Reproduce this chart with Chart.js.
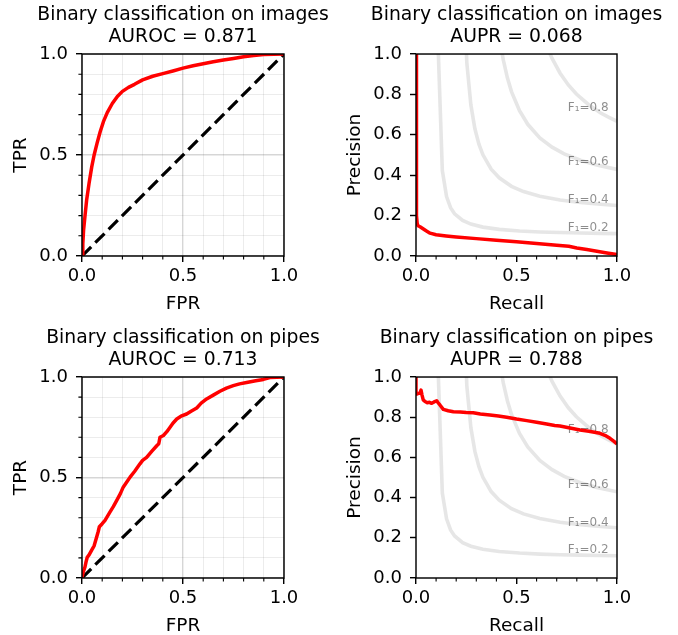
<!DOCTYPE html>
<html>
<head>
<meta charset="utf-8">
<script src="https://cdn.jsdelivr.net/npm/chart.js@4.4.1/dist/chart.umd.min.js"></script>
<style>
  html, body { margin: 0; padding: 0; background: #fff; overflow: hidden; width: 678px; height: 635px; }
  canvas { position: absolute; }
</style>
</head>
<body>
<canvas id="rocImages" width="366" height="317" style="left:0;top:0"></canvas>
<canvas id="prImages" width="355" height="317" style="left:339px;top:0"></canvas>
<canvas id="rocPipes" width="366" height="312" style="left:0;top:323px"></canvas>
<canvas id="prPipes" width="355" height="312" style="left:339px;top:323px"></canvas>
<script>
// ---- data ----
const aurocImages = '0.871';
const auprImages = '0.068';
const aurocPipes = '0.713';
const auprPipes = '0.788';

const rocImagesFpr = [0, 0.004, 0.008, 0.015, 0.023, 0.035, 0.048, 0.06, 0.075, 0.09,
  0.106, 0.125, 0.15, 0.175, 0.2, 0.23, 0.26, 0.3, 0.35, 0.4,
  0.45, 0.5, 0.55, 0.6, 0.65, 0.7, 0.75, 0.8, 0.85, 0.9, 0.95, 1.0];
const rocImagesTpr = [0, 0.06, 0.13, 0.2, 0.277, 0.36, 0.44, 0.5, 0.56, 0.615,
  0.665, 0.71, 0.755, 0.79, 0.815, 0.835, 0.85, 0.872, 0.89, 0.903,
  0.916, 0.93, 0.942, 0.952, 0.962, 0.97, 0.978, 0.986, 0.992, 0.997, 0.999, 1.0];

const rocPipesFpr = [0, 0.005, 0.015, 0.02, 0.026, 0.035, 0.048, 0.06, 0.073, 0.08,
  0.086, 0.1, 0.114, 0.125, 0.139, 0.155, 0.172, 0.19, 0.204, 0.22,
  0.238, 0.26, 0.287, 0.3, 0.32, 0.345, 0.37, 0.38, 0.386, 0.403,
  0.42, 0.436, 0.45, 0.469, 0.49, 0.518, 0.54, 0.568, 0.59, 0.617,
  0.65, 0.683, 0.715, 0.749, 0.78, 0.815, 0.86, 0.898, 0.93, 1.0];
const rocPipesTpr = [0, 0.025, 0.056, 0.08, 0.103, 0.115, 0.139, 0.16, 0.205, 0.23,
  0.255, 0.27, 0.287, 0.305, 0.329, 0.355, 0.386, 0.42, 0.452, 0.475,
  0.502, 0.53, 0.568, 0.585, 0.6, 0.63, 0.658, 0.668, 0.7, 0.709,
  0.728, 0.75, 0.77, 0.791, 0.805, 0.816, 0.83, 0.846, 0.87, 0.891,
  0.91, 0.929, 0.945, 0.957, 0.966, 0.973, 0.981, 0.988, 0.997, 1.0];

const prImagesRecall = [0, 0.001, 0.002, 0.004, 0.006, 0.01, 0.02, 0.035, 0.05, 0.07,
  0.1, 0.15, 0.2, 0.3, 0.4, 0.5, 0.6, 0.7, 0.76, 0.8, 0.85, 0.9, 0.95, 1.0];
const prImagesPrecision = [1.0, 0.6, 0.3, 0.2, 0.16, 0.15, 0.145, 0.135, 0.125, 0.113,
  0.105, 0.099, 0.094, 0.086, 0.078, 0.07, 0.062, 0.053, 0.048, 0.04, 0.032, 0.024, 0.015, 0.007];

const prPipesRecall = [0, 0.0, 0.005, 0.01, 0.02, 0.025, 0.03, 0.036, 0.045, 0.056,
  0.067, 0.078, 0.09, 0.103, 0.11, 0.119, 0.136, 0.16, 0.186, 0.22,
  0.25, 0.285, 0.32, 0.368, 0.41, 0.451, 0.5, 0.551, 0.6, 0.65,
  0.69, 0.716, 0.76, 0.816, 0.86, 0.915, 0.94, 0.965, 0.985, 1.0];
const prPipesPrecision = [1.0, 0.915, 0.915, 0.918, 0.92, 0.935, 0.91, 0.886, 0.878, 0.872,
  0.874, 0.869, 0.876, 0.882, 0.872, 0.861, 0.839, 0.832, 0.827, 0.826,
  0.823, 0.822, 0.816, 0.811, 0.806, 0.8, 0.791, 0.783, 0.775, 0.766,
  0.759, 0.756, 0.748, 0.736, 0.73, 0.72, 0.71, 0.695, 0.68, 0.667];

const chanceX = [0, 1];
const chanceY = [0, 1];

// iso-F1 curves
const isoScores = ['0.2', '0.4', '0.6', '0.8'];
const iso02Recall = [0.111, 0.131, 0.152, 0.172, 0.192, 0.232, 0.273, 0.333, 0.414, 0.515, 0.616, 0.717, 0.818, 0.919, 1.0];
const iso02Precision = [1.009, 0.423, 0.294, 0.239, 0.209, 0.176, 0.158, 0.143, 0.132, 0.124, 0.119, 0.116, 0.114, 0.112, 0.111];
const iso04Recall = [0.232, 0.253, 0.273, 0.293, 0.313, 0.333, 0.374, 0.414, 0.475, 0.535, 0.616, 0.717, 0.818, 0.919, 1.0];
const iso04Precision = [1.45, 0.955, 0.748, 0.63, 0.554, 0.501, 0.43, 0.387, 0.345, 0.319, 0.296, 0.277, 0.265, 0.256, 0.25];
const iso06Recall = [0.414, 0.434, 0.455, 0.475, 0.515, 0.556, 0.616, 0.677, 0.737, 0.818, 0.899, 1.0];
const iso06Precision = [1.089, 0.972, 0.881, 0.814, 0.719, 0.652, 0.585, 0.539, 0.506, 0.474, 0.45, 0.4286];
const iso08Recall = [0.657, 0.677, 0.717, 0.758, 0.798, 0.859, 0.919, 0.96, 1.0];
const iso08Precision = [1.023, 0.978, 0.905, 0.847, 0.802, 0.749, 0.708, 0.686, 0.667];
const isoLabelRecall = 0.755;
const isoLabelPrecision = [0.125, 0.26, 0.45, 0.72];

// ---- drawing ----
Chart.defaults.font.family = 'DejaVu Sans';
Chart.defaults.font.size = 18;
Chart.defaults.color = '#000';
Chart.defaults.animation = false;

const pts = (xs, ys) => xs.map((x, i) => ({x: x, y: ys[i]}));
const isHalf = v => Math.abs(v * 2 - Math.round(v * 2)) < 1e-6;

// short minor ticks and the box around the plot
const frame = {
  id: 'frame',
  afterDatasetsDraw(chart) {
    const {ctx, chartArea: a} = chart;
    ctx.save();
    ctx.strokeStyle = '#000';
    ctx.lineWidth = 1.1;
    ctx.beginPath();
    chart.scales.x.ticks.forEach(t => {
      if (t.label !== '') return;
      const px = chart.scales.x.getPixelForValue(t.value);
      ctx.moveTo(px, a.bottom); ctx.lineTo(px, a.bottom + 3.6);
    });
    chart.scales.y.ticks.forEach(t => {
      if (t.label !== '') return;
      const py = chart.scales.y.getPixelForValue(t.value);
      ctx.moveTo(a.left, py); ctx.lineTo(a.left - 3.6, py);
    });
    ctx.stroke();
    ctx.lineWidth = 1.44;
    ctx.strokeRect(a.left, a.top, a.right - a.left, a.bottom - a.top);
    ctx.restore();
  }
};

// F1 labels, drawn after the iso curves and under the PR curve
const isoLabels = {
  id: 'isoLabels',
  afterDatasetDraw(chart, args) {
    if (args.index !== 1) return;
    const {ctx} = chart;
    const xs = chart.scales.x, ys = chart.scales.y;
    ctx.save();
    ctx.fillStyle = 'rgba(0,0,0,0.45)';
    ctx.textBaseline = 'alphabetic';
    ctx.textAlign = 'left';
    ctx.font = '12px "DejaVu Sans"';
    isoScores.forEach((s, i) => {
      ctx.fillText('F\u2081=' + s, xs.getPixelForValue(isoLabelRecall), ys.getPixelForValue(isoLabelPrecision[i]));
    });
    ctx.restore();
  }
};

function axis(pos, title, step, grid, size, titlePad, allMajor) {
  const major = v => allMajor || isHalf(v);
  const ax = {
    type: 'linear', position: pos, min: 0, max: 1,
    border: {display: false},
    grid: {
      display: true,
      drawOnChartArea: grid,
      tickLength: 6,
      tickWidth: 1.44,
      color: c => isHalf(c.tick.value) ? 'rgba(0,0,0,0.16)' : 'rgba(0,0,0,0.075)',
      lineWidth: c => isHalf(c.tick.value) ? 1.4 : 1,
      tickColor: c => major(c.tick.value) ? '#000' : 'rgba(0,0,0,0)'
    },
    ticks: {
      stepSize: step, autoSkip: false, maxRotation: 0,
      padding: pos === 'bottom' ? 3.9 : 8,
      callback: v => major(v) ? v.toFixed(1) : ''
    },
    title: {
      display: true, text: title,
      font: {size: 18.5, lineHeight: 1},
      padding: {top: titlePad, bottom: 0}
    }
  };
  if (pos === 'bottom') ax.afterFit = s => { s.height = 57; };
  else ax.afterFit = s => { s.width = size; };
  return ax;
}

// empty right-hand axis so the plot sits centred under its title
const spacer = w => ({
  type: 'linear', position: 'right', min: 0, max: 1,
  grid: {display: false}, border: {display: false}, ticks: {display: false},
  afterFit: s => { s.width = w; }
});

function makeChart(id, titleLines, datasets, scales, bottomPad, extra) {
  return new Chart(document.getElementById(id), {
    type: 'line',
    data: {datasets: datasets},
    options: {
      responsive: false,
      layout: {padding: {top: 0, right: 0, bottom: bottomPad, left: 0}},
      plugins: {
        legend: {display: false},
        tooltip: {enabled: false},
        title: {
          display: true, text: titleLines,
          font: {size: 18.8, weight: 'normal', lineHeight: 1.2},
          padding: {top: 3.4, bottom: 5.5}, color: '#000'
        }
      },
      scales: scales
    },
    plugins: [frame].concat(extra)
  });
}

const red = (xs, ys) => ({
  data: pts(xs, ys), borderColor: '#ff0000', borderWidth: 3.5,
  pointRadius: 0, tension: 0, clip: 0, borderJoinStyle: 'round'
});
const chance = () => ({
  data: pts(chanceX, chanceY), borderColor: '#000', borderWidth: 3.2,
  borderDash: [13, 5.8], borderCapStyle: 'butt', pointRadius: 0, tension: 0, clip: 0
});
const iso = (xs, ys) => ({
  data: pts(xs, ys), borderColor: 'rgba(128,128,128,0.2)', borderWidth: 3.6,
  pointRadius: 0, tension: 0, clip: 0
});
const isoSets = () => [iso(iso02Recall, iso02Precision), iso(iso04Recall, iso04Precision),
  iso(iso06Recall, iso06Precision), iso(iso08Recall, iso08Precision)];

makeChart('rocImages', ['Binary classification on images', 'AUROC = ' + aurocImages],
  [red(rocImagesFpr, rocImagesTpr), chance()],
  {x: axis('bottom', 'FPR', 0.1, true, 0, 0, false), y: axis('left', 'TPR', 0.1, true, 82, 11.8, false), r: spacer(82)},
  4, []);

makeChart('prImages', ['Binary classification on images', 'AUPR = ' + auprImages],
  [red(prImagesRecall, prImagesPrecision)].concat(isoSets()),
  {x: axis('bottom', 'Recall', 0.1, false, 0, 0, false), y: axis('left', 'Precision', 0.2, false, 77, 6.5, true), r: spacer(77)},
  4, [isoLabels]);

makeChart('rocPipes', ['Binary classification on pipes', 'AUROC = ' + aurocPipes],
  [red(rocPipesFpr, rocPipesTpr), chance()],
  {x: axis('bottom', 'FPR', 0.1, true, 0, 0, false), y: axis('left', 'TPR', 0.1, true, 82, 11.8, false), r: spacer(82)},
  0, []);

makeChart('prPipes', ['Binary classification on pipes', 'AUPR = ' + auprPipes],
  [red(prPipesRecall, prPipesPrecision)].concat(isoSets()),
  {x: axis('bottom', 'Recall', 0.1, false, 0, 0, false), y: axis('left', 'Precision', 0.2, false, 77, 6.5, true), r: spacer(77)},
  0, [isoLabels]);
</script>
</body>
</html>
